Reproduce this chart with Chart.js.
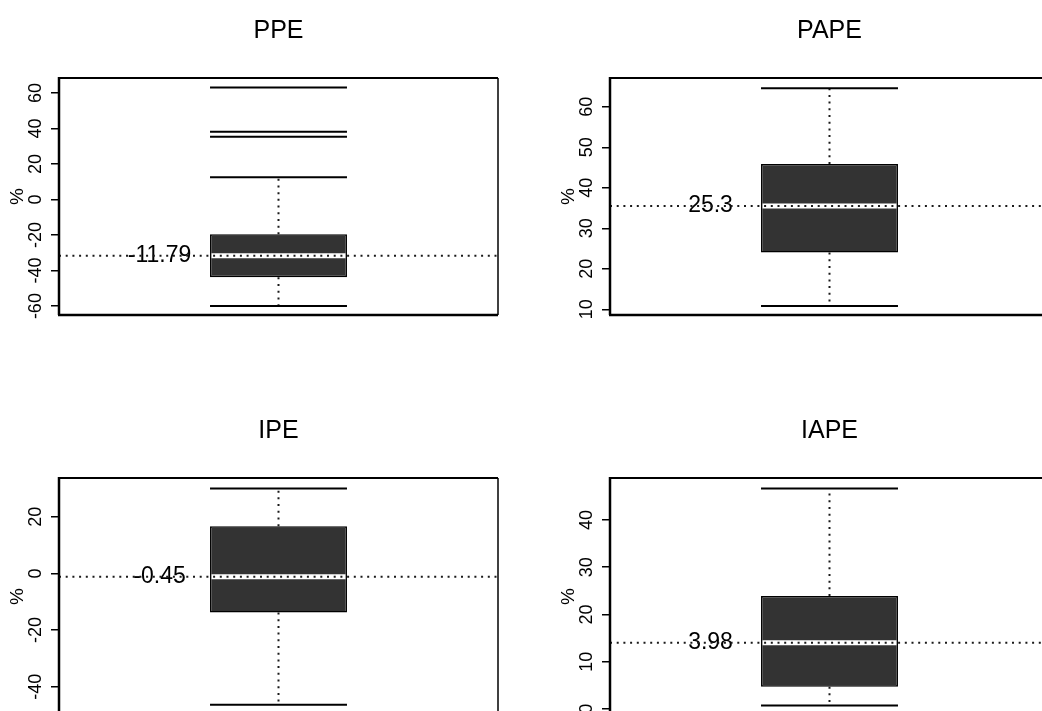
<!DOCTYPE html>
<html>
<head>
<meta charset="utf-8">
<script src="https://cdn.jsdelivr.net/npm/chart.js@4"></script>
<style>
html, body { margin: 0; padding: 0; background: #fff; overflow: hidden; }
body { position: relative; width: 1042px; height: 711px; }
canvas { position: absolute; }
</style>
</head>
<body>
<canvas id="c0" width="551" height="400" style="left:0px;top:0px"></canvas>
<canvas id="c1" width="551" height="400" style="left:551px;top:0px"></canvas>
<canvas id="c2" width="551" height="400" style="left:0px;top:400px"></canvas>
<canvas id="c3" width="551" height="400" style="left:551px;top:400px"></canvas>
<script>
// one box per panel, values in %
var names = ['PPE', 'PAPE', 'IPE', 'IAPE'];
var lowWhisker = [-60.0, 10.8, -46.4, 0.7];
var q1 = [-43.8, 24.0, -13.8, 4.7];
var medians = [-31.7, 35.5, -1.2, 14.0];
var q3 = [-19.6, 45.9, 16.7, 23.9];
var highWhisker = [12.5, 64.6, 30.0, 46.7];
var outliers = [[35.4, 38.2, 63.0], [], [], []];
var notes = [-11.79, 25.3, -0.45, 3.98];
var yMin = [-65.0, 8.6, -50.0, -1.3];
var yMax = [68.4, 67.1, 33.7, 48.9];
var yTicks = [
	[-60, -40, -20, 0, 20, 40, 60],
	[10, 20, 30, 40, 50, 60],
	[-40, -20, 0, 20],
	[0, 10, 20, 30, 40]
];

var fontFamily = '"Liberation Sans", Arial, Helvetica, sans-serif';
Chart.defaults.font.family = fontFamily;
Chart.defaults.color = '#000';

var halfBox = 0.156;   // half box width, in category units
var noteX = -0.271;

var rBoxPlugin = {
	id: 'rbox',
	afterDatasetsDraw: function(chart) {
		var i = chart.options.plugins.rbox.panel;
		var ctx = chart.ctx;
		var xs = chart.scales.x, ys = chart.scales.y, a = chart.chartArea;
		var xc = xs.getPixelForValue(0);
		var xl = xs.getPixelForValue(-halfBox), xr = xs.getPixelForValue(halfBox);
		var py = function(v) { return ys.getPixelForValue(v); };
		var seg = function(x1, y1, x2, y2) {
			ctx.beginPath(); ctx.moveTo(x1, y1); ctx.lineTo(x2, y2); ctx.stroke();
		};
		ctx.save();

		// whiskers
		ctx.strokeStyle = '#1a1a1a';
		ctx.lineWidth = 2;
		ctx.setLineDash([2, 4.7]);
		seg(xc, py(q3[i]), xc, py(highWhisker[i]));
		seg(xc, py(q1[i]), xc, py(lowWhisker[i]));
		ctx.setLineDash([]);

		// staples and outliers
		ctx.strokeStyle = '#000';
		ctx.lineWidth = 2;
		seg(xl, py(highWhisker[i]), xr, py(highWhisker[i]));
		seg(xl, py(lowWhisker[i]), xr, py(lowWhisker[i]));
		outliers[i].forEach(function(v) { seg(xl, py(v), xr, py(v)); });

		// median
		var ym = py(medians[i]);
		ctx.strokeStyle = '#fff';
		ctx.lineWidth = 5;
		seg(xl + 1.5, ym, xr - 1.5, ym);

		// note text
		ctx.fillStyle = '#000';
		ctx.font = '23px ' + fontFamily;
		ctx.textAlign = 'center';
		ctx.textBaseline = 'middle';
		ctx.fillText(String(notes[i]), xs.getPixelForValue(noteX), ym);

		// dotted line at the median
		ctx.strokeStyle = '#1a1a1a';
		ctx.lineWidth = 2;
		ctx.setLineDash([2, 4.7]);
		seg(a.left, ym, a.right, ym);
		ctx.setLineDash([]);

		// frame
		ctx.strokeStyle = '#000';
		ctx.lineWidth = 2; seg(a.left, a.top, a.right, a.top);
		ctx.lineWidth = 1.5; seg(a.right, a.top, a.right, a.bottom);
		ctx.lineWidth = 2.5; seg(a.left - 1, a.bottom, a.right, a.bottom);
		seg(a.left, a.top - 1, a.left, a.bottom);

		// rotated tick labels
		ctx.font = '18px ' + fontFamily;
		yTicks[i].forEach(function(v) {
			ctx.save();
			ctx.translate(a.left - 23, py(v));
			ctx.rotate(-Math.PI / 2);
			ctx.fillText(String(v), 0, 0);
			ctx.restore();
		});
		ctx.restore();
	}
};

function makePanel(i) {
	var ctx = document.getElementById('c' + i).getContext('2d');
	return new Chart(ctx, {
		type: 'bar',
		data: {
			labels: [names[i]],
			datasets: [{
				data: [[q1[i], q3[i]]],
				backgroundColor: '#333333',
				borderColor: '#000',
				borderWidth: 1.5,
				borderSkipped: false,
				barPercentage: halfBox * 2,
				categoryPercentage: 1
			}]
		},
		options: {
			responsive: false,
			animation: false,
			devicePixelRatio: 1,
			layout: { padding: { left: 0, right: 53, top: 0, bottom: 85 } },
			plugins: {
				legend: { display: false },
				tooltip: { enabled: false },
				title: {
					display: true,
					text: names[i],
					fullSize: false,
					color: '#000',
					font: { size: 25, weight: 'normal', lineHeight: 1.2 },
					padding: { top: 16, bottom: 32 }
				},
				rbox: { panel: i }
			},
			scales: {
				x: { display: false, offset: true },
				y: {
					min: yMin[i],
					max: yMax[i],
					beginAtZero: false,
					afterBuildTicks: function(s) {
						s.ticks = yTicks[i].map(function(v) { return { value: v }; });
					},
					afterFit: function(s) { s.width = 59; },
					ticks: { display: false },
					grid: { drawOnChartArea: false, drawTicks: true, tickLength: 8, color: '#000', lineWidth: 1.5 },
					border: { display: false },
					title: { display: true, text: '%', color: '#000', font: { size: 19 }, padding: { top: 6, bottom: 0 } }
				}
			}
		},
		plugins: [rBoxPlugin]
	});
}

window.onload = function() {
	for (var i = 0; i < names.length; i++) makePanel(i);
};
</script>
</body>
</html>
